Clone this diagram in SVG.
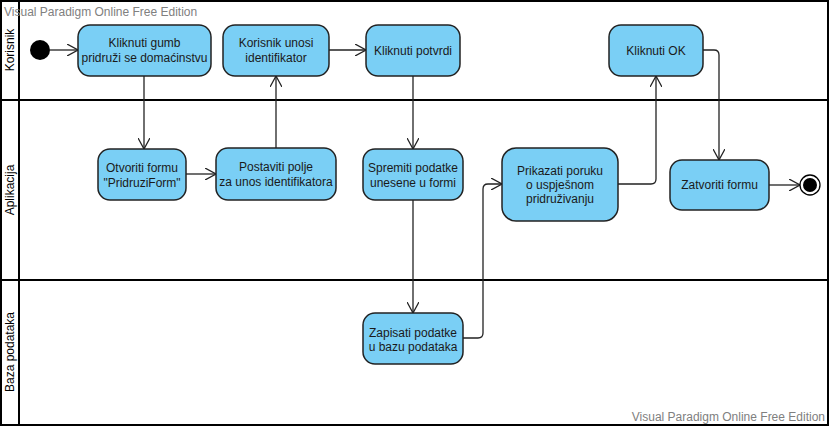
<svg xmlns="http://www.w3.org/2000/svg" width="830" height="427" viewBox="0 0 830 427">
<style>
.lane{fill:none;stroke:#000;stroke-width:2}
.lbl{font-family:"Liberation Sans",Arial,sans-serif;font-size:12px;fill:#000;text-anchor:middle}
.wm{font-family:"Liberation Sans",Arial,sans-serif;font-size:12px;fill:#808080}
.act rect{fill:#7ACFF5;stroke:#222;stroke-width:1.5}
.act text{font-family:"Liberation Sans",Arial,sans-serif;font-size:12px;fill:#1a1a1a;text-anchor:middle}
.con path{fill:none;stroke:#222;stroke-width:1.3;marker-end:url(#arr)}
</style>
<defs>
<marker id="arr" viewBox="0 0 12 12" refX="11" refY="6" markerWidth="12" markerHeight="12" markerUnits="userSpaceOnUse" orient="auto">
<path d="M0,0 L11,6 L0,12" fill="none" stroke="#222" stroke-width="1.3"/>
</marker>
</defs>
<rect width="830" height="427" fill="#fff"/>
<g id="lanes">
<rect class="lane" x="1" y="1" width="827" height="424"/>
<line class="lane" x1="19" y1="1" x2="19" y2="425"/>
<line class="lane" x1="1" y1="100" x2="828" y2="100"/>
<line class="lane" x1="1" y1="280" x2="828" y2="280"/>
<text class="lbl" transform="translate(14,50) rotate(-90)">Korisnik</text>
<text class="lbl" transform="translate(14,190) rotate(-90)">Aplikacija</text>
<text class="lbl" transform="translate(14,352) rotate(-90)">Baza podataka</text>
</g>
<text class="wm" x="4" y="16">Visual Paradigm Online Free Edition</text>
<text class="wm" x="825" y="421" text-anchor="end">Visual Paradigm Online Free Edition</text>
<g class="con" id="connectors">
<path d="M50,50 H78"/>
<path d="M144,76 V149"/>
<path d="M186,174 H216"/>
<path d="M276,148 V76"/>
<path d="M329,50 H366"/>
<path d="M413,76 V149"/>
<path d="M413,200 V313"/>
<path d="M463,338 H478 Q483,338 483,333 V189 Q483,184 488,184 H502"/>
<path d="M618,184 H651 Q656,184 656,179 V76"/>
<path d="M703,50 H714 Q719,50 719,55 V160"/>
<path d="M769,185 H800"/>
</g>
<g id="initial"><circle cx="40" cy="50" r="10" fill="#000"/></g>
<g id="final"><circle cx="810" cy="185" r="10" fill="#fff" stroke="#000" stroke-width="1.3"/><circle cx="810" cy="185" r="7" fill="#000"/></g>
<g class="act" id="n1"><rect x="78" y="25" width="133" height="51" rx="12"/><text x="144.5" y="47">Kliknuti gumb</text><text x="144.5" y="62">pridruži se domaćinstvu</text></g>
<g class="act" id="n2"><rect x="223" y="25" width="106" height="51" rx="12"/><text x="276" y="47">Korisnik unosi</text><text x="276" y="62">identifikator</text></g>
<g class="act" id="n3"><rect x="366" y="25" width="94" height="51" rx="12"/><text x="413" y="55">Kliknuti potvrdi</text></g>
<g class="act" id="n4"><rect x="609" y="25" width="94" height="51" rx="12"/><text x="656" y="55">Kliknuti OK</text></g>
<g class="act" id="n5"><rect x="98" y="149" width="88" height="51" rx="12"/><text x="142" y="172">Otvoriti formu</text><text x="142" y="187">"PridruziForm"</text></g>
<g class="act" id="n6"><rect x="216" y="148" width="120" height="52" rx="12"/><text x="276" y="171">Postaviti polje</text><text x="276" y="186">za unos identifikatora</text></g>
<g class="act" id="n7"><rect x="363" y="149" width="100" height="51" rx="12"/><text x="413" y="172">Spremiti podatke</text><text x="413" y="187">unesene u formi</text></g>
<g class="act" id="n8"><rect x="502" y="148" width="116" height="73" rx="14"/><text x="560" y="175">Prikazati poruku</text><text x="560" y="189">o uspješnom</text><text x="560" y="203">pridruživanju</text></g>
<g class="act" id="n9"><rect x="670" y="160" width="99" height="50" rx="12"/><text x="719.5" y="189">Zatvoriti formu</text></g>
<g class="act" id="n10"><rect x="363" y="313" width="100" height="51" rx="12"/><text x="413" y="337">Zapisati podatke</text><text x="413" y="351">u bazu podataka</text></g>
</svg>
